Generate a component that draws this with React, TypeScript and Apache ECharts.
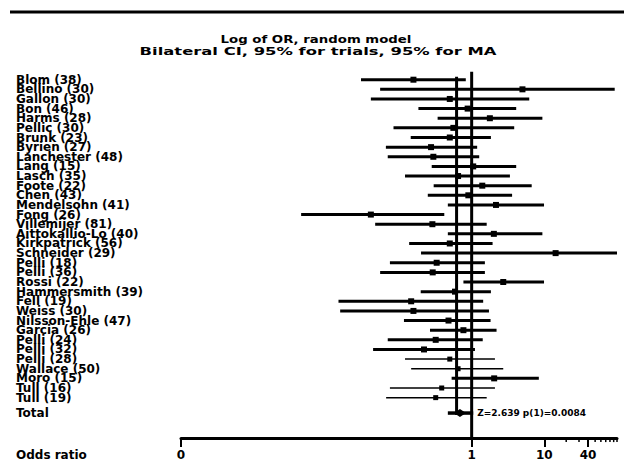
import React, { useEffect, useRef } from 'react';
import * as echarts from 'echarts';

const titleLines = ['Log of OR, random model', 'Bilateral CI, 95% for trials, 95% for MA'];

const studies = [
  'Blom (38)', 'Bellino (30)', 'Gallon (30)', 'Bon (46)', 'Harms (28)', 'Pellic (30)',
  'Brunk (23)', 'Byrien (27)', 'Lanchester (48)', 'Lang (15)', 'Lasch (35)', 'Foote (22)',
  'Chen (43)', 'Mendelsohn (41)', 'Fong (26)', 'Villemijer (81)', 'Aittokallio-Lo (40)',
  'Kirkpatrick (56)', 'Schneider (29)', 'Pelli (18)', 'Pelli (36)', 'Rossi (22)',
  'Hammersmith (39)', 'Fell (19)', 'Weiss (30)', 'Nilsson-Ehle (47)', 'Garcia (26)',
  'Pelli (24)', 'Pelli (32)', 'Pelli (28)', 'Wallace (50)', 'Moro (15)', 'Tull (16)', 'Tull (19)',
];

const lower = [0.030, 0.055, 0.041, 0.185, 0.34, 0.084, 0.145, 0.066, 0.070, 0.282, 0.121, 0.30,
  0.249, 0.47, 0.0045, 0.047, 0.47, 0.138, 0.201, 0.075, 0.055, 0.77, 0.199, 0.0147, 0.0155,
  0.117, 0.267, 0.070, 0.044, 0.121, 0.147, 0.53, 0.075, 0.0665];
const point = [0.158, 5.0, 0.50, 0.88, 1.78, 0.56, 0.50, 0.276, 0.297, 1.05, 0.65, 1.40,
  0.90, 2.16, 0.041, 0.288, 2.02, 0.50, 14.3, 0.33, 0.291, 2.72, 0.59, 0.147, 0.158,
  0.48, 0.77, 0.32, 0.221, 0.50, 0.65, 2.04, 0.387, 0.32];
const upper = [0.83, 93, 6.2, 4.1, 9.4, 3.85, 1.84, 1.19, 1.27, 4.1, 3.36, 6.7,
  3.6, 9.9, 0.42, 1.61, 9.4, 1.94, 100, 1.52, 1.52, 9.9, 1.84, 1.44, 1.73,
  1.82, 2.2, 1.42, 1.11, 2.09, 2.72, 8.4, 2.09, 1.61];

const totalLabel = 'Total';
const totalCI = [0.47, 0.69, 1.05];
const totalText = 'Z=2.639 p(1)=0.0084';
const pooledOR = 0.62;

const tickValues = [0.0001, 1, 10, 40];
const tickLabels = ['0', '1', '10', '40'];
const minorTicks = [20, 30, 50, 60, 70, 80, 90, 100];
const xLabel = 'Odds ratio';

const FONT = 'DejaVu Sans';
const THIN_ROWS = new Set([29, 30, 32, 33]);
const LOG = (v: number) => Math.log10(v);
const Y_MAX = 38.2;

export default function App() {
  const ref = useRef<HTMLDivElement>(null);
  useEffect(() => {
    const chart = echarts.init(ref.current!, null, { renderer: 'svg' });
    const n = studies.length;
    const totalRow = n + 1.6;
    const rows = studies.map((_, i) => [i + 1, LOG(lower[i]), LOG(point[i]), LOG(upper[i])]);
    const tickLogs = tickValues.map(LOG);

    const option: any = {
      animation: false,
      grid: { left: 181, right: 7, top: 70.06, bottom: 36.9 },
      xAxis: {
        type: 'value', min: -4, max: 2,
        axisLine: { show: true, onZero: false, lineStyle: { color: '#000', width: 3 } },
        axisTick: { show: true, customValues: tickLogs, length: 9, lineStyle: { color: '#000', width: 2 } },
        axisLabel: {
          customValues: tickLogs,
          formatter: (v: number) => {
            const i = tickLogs.findIndex((t) => Math.abs(t - v) < 1e-6);
            return i >= 0 ? tickLabels[i] : '';
          },
          margin: 11, color: '#000', fontWeight: 'bold', fontSize: 12, fontFamily: FONT,
        },
        splitLine: { show: false },
      },
      yAxis: {
        type: 'value', inverse: true, min: 0, max: Y_MAX, interval: 0.2,
        axisLine: { show: false }, axisTick: { show: false }, splitLine: { show: false },
        axisLabel: {
          align: 'left', margin: 165, color: '#000', fontWeight: 'bold', fontSize: 12, lineHeight: 9,
          fontFamily: FONT,
          formatter: (v: number) => {
            const k = Math.round(v * 5);
            if (k === Math.round(totalRow * 5)) return totalLabel;
            if (k % 5 === 0) {
              const r = k / 5;
              if (r >= 1 && r <= n) return studies[r - 1];
            }
            return '';
          },
        },
      },
      graphic: [
        { type: 'line', shape: { x1: 10, y1: 12, x2: 624, y2: 12 }, style: { stroke: '#000', lineWidth: 3 } },
        {
          type: 'text', x: 316, y: 39.5, scaleX: 1.21,
          style: { text: titleLines[0], font: `bold 11px "${FONT}"`, fill: '#000', textAlign: 'center', textVerticalAlign: 'middle' },
        },
        {
          type: 'text', x: 318, y: 51.5, scaleX: 1.49,
          style: { text: titleLines[1], font: `bold 11px "${FONT}"`, fill: '#000', textAlign: 'center', textVerticalAlign: 'middle' },
        },
        {
          type: 'text', x: 16, y: 455,
          style: { text: xLabel, font: `bold 12px "${FONT}"`, fill: '#000', textAlign: 'left', textVerticalAlign: 'middle' },
        },
      ],
      series: [
        {
          type: 'line', symbol: 'none',
          data: [[0, 0.17], [0, Y_MAX]],
          lineStyle: { color: '#000', width: 3 },
        },
        {
          type: 'line', symbol: 'none',
          data: [[LOG(pooledOR), 0.7], [LOG(pooledOR), 35.8]],
          lineStyle: { color: '#000', width: 3 },
        },
        {
          type: 'custom',
          data: minorTicks.map((v) => [LOG(v), Y_MAX]),
          encode: { x: 0, y: 1 },
          clip: false,
          renderItem: (params: any, api: any) => {
            const c = api.coord([api.value(0), api.value(1)]);
            return { type: 'line', shape: { x1: c[0], y1: c[1], x2: c[0], y2: c[1] + 4 }, style: { stroke: '#000', lineWidth: 1.5 } };
          },
        },
        {
          type: 'custom',
          data: rows,
          encode: { x: [1, 2, 3], y: 0 },
          renderItem: (params: any, api: any) => {
            const y = api.value(0);
            const l = api.coord([api.value(1), y]);
            const p = api.coord([api.value(2), y]);
            const r = api.coord([api.value(3), y]);
            const thin = THIN_ROWS.has(params.dataIndex);
            const s = thin ? 2.5 : 3;
            return {
              type: 'group',
              children: [
                { type: 'line', shape: { x1: l[0], y1: l[1], x2: r[0], y2: r[1] }, style: { stroke: '#000', lineWidth: thin ? 1.5 : 3 } },
                { type: 'rect', shape: { x: p[0] - s, y: p[1] - s, width: 2 * s, height: 2 * s }, style: { fill: '#000' } },
              ],
            };
          },
        },
        {
          type: 'custom',
          data: [[totalRow, LOG(totalCI[0]), LOG(totalCI[1]), LOG(totalCI[2])]],
          encode: { x: [1, 2, 3], y: 0 },
          renderItem: (params: any, api: any) => {
            const y = api.value(0);
            const l = api.coord([api.value(1), y]);
            const p = api.coord([api.value(2), y]);
            const r = api.coord([api.value(3), y]);
            return {
              type: 'group',
              children: [
                { type: 'line', shape: { x1: l[0], y1: l[1], x2: r[0], y2: r[1] }, style: { stroke: '#000', lineWidth: 3.5 } },
                {
                  type: 'polygon',
                  shape: { points: [[p[0] - 6, p[1]], [p[0], p[1] - 4], [p[0] + 6, p[1]], [p[0], p[1] + 4]] },
                  style: { fill: '#000' },
                },
                {
                  type: 'text', x: r[0] + 4, y: r[1],
                  style: { text: totalText, font: `bold 9px "${FONT}"`, fill: '#000', textAlign: 'left', textVerticalAlign: 'middle' },
                },
              ],
            };
          },
        },
      ],
    };
    chart.setOption(option);
    return () => chart.dispose();
  }, []);
  return <div ref={ref} style={{ position: 'fixed', left: 0, top: 0, width: 624, height: 475, background: '#fff' }} />;
}
